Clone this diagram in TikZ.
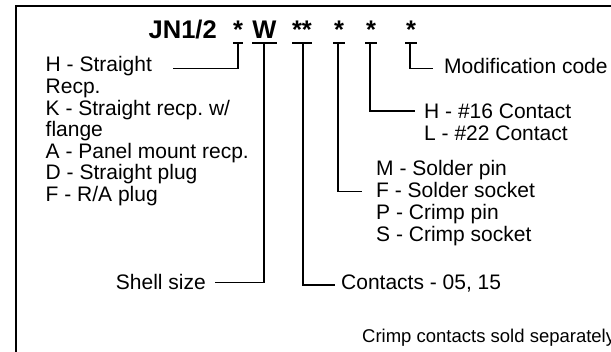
\documentclass[tikz,border=0pt]{standalone}
\usepackage{fontspec}
\setmainfont{Liberation Sans}
\frenchspacing
\begin{document}
\begin{tikzpicture}[x=1pt,y=-1pt,
  lbl/.style={inner sep=0pt,anchor=base west,font=\fontsize{21}{22.5}\selectfont},
  ttl/.style={inner sep=0pt,anchor=base,font=\fontsize{25.5}{27}\selectfont\bfseries},
  uline/.style={line width=2pt},
  conn/.style={line width=1.2pt},
  frame/.style={line width=2.8pt}]
\useasboundingbox (0,0) rectangle (611,352);
% frame
\draw[frame] (16,360) -- (16,6) -- (620,6);
% title
\node[ttl,anchor=base west] (jn) at (148.5,38.5) {JN1/2};
\node[ttl] (c1) at (238,38.5) {*};
\node[ttl] (cw) at (264.5,38.5) {W};
\node[ttl] (c2) at (302,38.5) {**};
\node[ttl] (c3) at (339,38.5) {*};
\node[ttl] (c4) at (371,38.5) {*};
\node[ttl] (c5) at (411,38.5) {*};
% underlines
\draw[uline] (233,43) -- (243,43);
\draw[uline] (252,43) -- (277,43);
\draw[uline] (292,43) -- (312,43);
\draw[uline] (333,43) -- (345,43);
\draw[uline] (365,43) -- (377,43);
\draw[uline] (405,43) -- (417,43);
\coordinate (u1) at (238,43);
\coordinate (uw) at (264,43);
\coordinate (u2) at (303,43);
\coordinate (u3) at (338,43);
\coordinate (u4) at (370,43);
\coordinate (u5) at (410,43);
% left labels
\node[lbl] (h) at (45.5,72) {H - Straight};
\node[lbl] (hr) at (45.5,93.6) {Recp.};
\node[lbl] (k) at (45.5,115.2) {K - Straight recp. w/};
\node[lbl] (kf) at (45.5,136.8) {flange};
\node[lbl] (a) at (45.5,158.4) {A - Panel mount recp.};
\node[lbl] (d) at (45.5,180) {D - Straight plug};
\node[lbl] (f) at (45.5,201.6) {F - R/A plug};
\node[lbl,anchor=base east] (shell) at (206,290) {Shell size};
% right labels
\node[lbl] (mod) at (444,74) {Modification code};
\node[lbl] (h16) at (424,119) {H - \#16 Contact};
\node[lbl] (l22) at (424,141) {L - \#22 Contact};
\node[lbl] (m) at (376,176) {M - Solder pin};
\node[lbl] (fs) at (376,198) {F - Solder socket};
\node[lbl] (p) at (376,220) {P - Crimp pin};
\node[lbl] (s) at (376,242) {S - Crimp socket};
\node[lbl] (cont) at (341,290) {Contacts - 05, 15};
\node[lbl,font=\fontsize{18.5}{20}\selectfont] (crimp) at (362,343) {Crimp contacts sold separately};
% connector ends
\coordinate (e1) at (173,68.5);
\coordinate (ew) at (215,282.5);
\coordinate (e2) at (335,285);
\coordinate (e3) at (362,191.5);
\coordinate (e4) at (415,111);
\coordinate (e5) at (433,68.5);
% connectors
\draw[conn] (u1) |- (e1);
\draw[conn] (uw) |- (ew);
\draw[conn] (u2) |- (e2);
\draw[conn] (u3) |- (e3);
\draw[conn] (u4) |- (e4);
\draw[conn] (u5) |- (e5);
\end{tikzpicture}
\end{document}
